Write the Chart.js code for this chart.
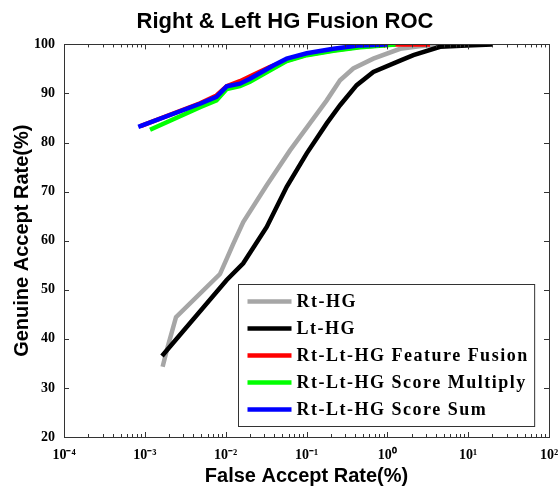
<!DOCTYPE html>
<html>
<head>
<meta charset="utf-8">
<script src="https://cdn.jsdelivr.net/npm/chart.js@4/dist/chart.umd.min.js"></script>
<style>
  body { margin: 0; background: #fff; }
</style>
</head>
<body>
<canvas id="myChart" width="560" height="488"></canvas>
<script>
// data (x = FAR %, y = GAR %)
const rtX = [0.00166, 0.00187, 0.00243, 0.0085, 0.0101, 0.01245, 0.0165, 0.0322, 0.0625, 0.110, 0.178, 0.260, 0.379, 0.671, 1.44, 2.5, 4.49];
const rtY = [34.3, 37.7, 44.4, 53.2, 56.0, 59.4, 63.8, 71.3, 78.4, 83.9, 88.6, 92.7, 95.1, 97.1, 99.1, 99.6, 100];

const ltX = [0.00163, 0.0103, 0.0165, 0.0322, 0.0569, 0.1007, 0.178, 0.260, 0.418, 0.671, 1.44, 2.10, 4.49, 9.6, 19.7];
const ltY = [36.5, 52.0, 55.4, 62.8, 71.0, 77.8, 83.9, 87.6, 91.7, 94.4, 96.7, 97.8, 99.5, 99.8, 100];

const featX = [0.0009, 0.00482, 0.0077, 0.0103, 0.015, 0.022, 0.035, 0.0569, 0.1007, 0.215, 0.459, 1.17, 3.37];
const featY = [83.4, 88.0, 89.6, 91.5, 92.5, 93.8, 95.4, 96.7, 97.9, 98.8, 99.5, 100, 100];

const multX = [0.00116, 0.00482, 0.0077, 0.0103, 0.015, 0.02, 0.0388, 0.0569, 0.1007, 0.215, 0.459, 1.26];
const multY = [82.6, 87.2, 88.6, 90.9, 91.5, 92.4, 95.1, 96.6, 97.8, 98.7, 99.4, 100];

const sumX = [0.00083, 0.00482, 0.0077, 0.0103, 0.015, 0.02, 0.0388, 0.0569, 0.1007, 0.215, 0.459, 1.0];
const sumY = [83.2, 87.9, 89.3, 91.45, 92.0, 93.0, 95.7, 97.1, 98.2, 99.1, 99.8, 100];

const seriesNames = ["Rt-HG", "Lt-HG", "Rt-Lt-HG Feature Fusion", "Rt-Lt-HG Score Multiply", "Rt-Lt-HG Score Sum"];
const seriesColors = ["#a6a6a6", "#000000", "#ff0000", "#00ff00", "#0000ff"];

const xTickExps = [-4, -3, -2, -1, 0, 1, 2];
const xTickLabels = ["10\u207B\u2074", "10\u207B\u00B3", "10\u207B\u00B2", "10\u207B\u00B9", "10\u2070", "10\u00B9", "10\u00B2"];
const yTicks = [20, 30, 40, 50, 60, 70, 80, 90, 100];

const serif = "'Liberation Serif', 'Times New Roman', serif";
const sans = "'Liberation Sans', Arial, sans-serif";

const zip = (xs, ys) => xs.map((x, i) => ({ x: x, y: ys[i] }));
const allX = [rtX, ltX, featX, multX, sumX];
const allY = [rtY, ltY, featY, multY, sumY];

//setup
const data = {
  datasets: seriesNames.map((name, i) => ({
    label: name,
    data: zip(allX[i], allY[i]),
    borderColor: seriesColors[i],
    backgroundColor: seriesColors[i],
    borderWidth: 4.5,
    pointRadius: 0,
    tension: 0,
    clip: 0,
    order: seriesNames.length - i, // blue drawn last, like matlab
  })),
};

// matlab style box, inward ticks and boxed legend
const matlabBox = {
  id: "matlabBox",
  afterDatasetsDraw(chart) {
    const { ctx, chartArea: a, scales } = chart;
    const xs = scales.x, ys = scales.y;
    ctx.save();
    ctx.strokeStyle = "#333";
    ctx.lineWidth = 1;
    ctx.beginPath();
    // minor + major x ticks
    for (let e = -4; e <= 2; e++) {
      for (let k = 1; k <= 9; k++) {
        const v = k * Math.pow(10, e);
        if (v > 100.0001) break;
        const px = Math.round(xs.getPixelForValue(v)) + 0.5;
        const len = k === 1 ? 5 : 3;
        ctx.moveTo(px, a.bottom); ctx.lineTo(px, a.bottom - len);
        ctx.moveTo(px, a.top); ctx.lineTo(px, a.top + len);
      }
    }
    yTicks.forEach(v => {
      const py = Math.round(ys.getPixelForValue(v)) + 0.5;
      ctx.moveTo(a.left, py); ctx.lineTo(a.left + 5, py);
      ctx.moveTo(a.right, py); ctx.lineTo(a.right - 5, py);
    });
    ctx.stroke();
    ctx.strokeRect(Math.round(a.left) + 0.5, Math.round(a.top) + 0.5,
      Math.round(a.right - a.left), Math.round(a.bottom - a.top));

    // legend box, bottom-right inside the axes
    const ds = chart.data.datasets;
    ctx.font = "bold 18px " + serif;
    ctx.letterSpacing = "1.5px";
    const textW = Math.max(...ds.map(d => ctx.measureText(d.label).width));
    const rowH = 27;
    const boxW = 58 + textW + 6;
    const boxH = rowH * ds.length + 7;
    const bx = Math.round(a.right - 15 - boxW) + 0.5;
    const by = Math.round(a.bottom - 11 - boxH) + 0.5;
    ctx.fillStyle = "#fff";
    ctx.fillRect(bx, by, boxW, boxH);
    ctx.strokeStyle = "#333";
    ctx.strokeRect(bx, by, boxW, boxH);
    ctx.textBaseline = "middle";
    ctx.textAlign = "left";
    ds.forEach((d, i) => {
      const ry = by + 17 + i * rowH;
      ctx.beginPath();
      ctx.strokeStyle = d.borderColor;
      ctx.lineWidth = 4.5;
      ctx.moveTo(bx + 9, ry); ctx.lineTo(bx + 53, ry);
      ctx.stroke();
      ctx.fillStyle = "#000";
      ctx.fillText(d.label, bx + 58, ry + 1);
    });
    ctx.restore();
  },
};

//options block
const options = {
  responsive: false,
  animation: false,
  devicePixelRatio: 1,
  layout: { padding: { left: 10, right: 0, top: 0, bottom: 0 } },
  plugins: {
    legend: { display: false },
    tooltip: { enabled: false },
    title: {
      display: true,
      text: "Right & Left HG Fusion ROC",
      color: "#000",
      font: { family: sans, size: 22, weight: "bold" },
      padding: { top: 9, bottom: 9 },
    },
  },
  scales: {
    x: {
      type: "logarithmic",
      min: 1e-4,
      max: 100,
      grid: { display: false, drawTicks: false },
      border: { display: false },
      afterBuildTicks: s => { s.ticks = xTickExps.map(e => ({ value: Math.pow(10, e) })); },
      afterFit: s => { s.height = 51; s.paddingLeft = 0; s.paddingRight = 11; },
      ticks: {
        autoSkip: false,
        maxRotation: 0,
        padding: 10,
        color: "#000",
        font: { family: serif, size: 14, weight: "bold" },
        callback: (v) => {
          const i = xTickExps.indexOf(Math.round(Math.log10(v)));
          return i >= 0 ? xTickLabels[i] : "";
        },
      },
      title: {
        display: true,
        text: "False Accept Rate(%)",
        color: "#000",
        font: { family: sans, size: 20, weight: "bold" },
        padding: { top: 0, bottom: 0 },
      },
    },
    y: {
      min: 20,
      max: 100,
      grid: { display: false, drawTicks: false },
      border: { display: false },
      afterFit: s => { s.width = 54; },
      ticks: {
        stepSize: 10,
        padding: 9,
        color: "#000",
        font: { family: serif, size: 14, weight: "bold" },
      },
      title: {
        display: true,
        text: "Genuine Accept Rate(%)",
        color: "#000",
        font: { family: sans, size: 20, weight: "bold" },
        padding: { top: 0, bottom: 0 },
      },
    },
  },
};

//config
const config = {
  type: "line",
  data,
  options,
  plugins: [matlabBox],
};

//render
const myChart = new Chart(document.getElementById("myChart"), config);
</script>
</body>
</html>
